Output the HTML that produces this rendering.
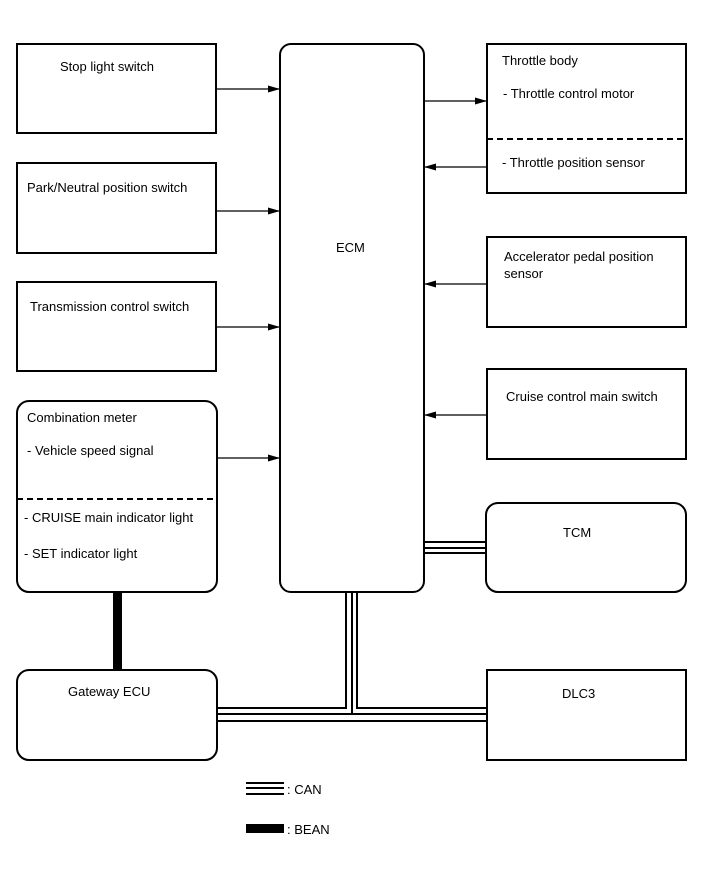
<!DOCTYPE html>
<html><head><style>
body{margin:0;background:#fff}
svg text{font-family:"Liberation Sans",Arial,sans-serif;font-size:13px;fill:#000}
</style></head><body>
<svg width="713" height="882" viewBox="0 0 713 882" xmlns="http://www.w3.org/2000/svg">
<defs><marker id="a" markerWidth="12" markerHeight="8" refX="12" refY="4" orient="auto" markerUnits="userSpaceOnUse"><path d="M0,0.5 L12,4 L0,7.5 z" fill="#000"/></marker></defs>
<g fill="none" stroke="#000" stroke-width="2">
<rect x="17" y="44" width="199" height="89"/>
<rect x="17" y="163" width="199" height="90"/>
<rect x="17" y="282" width="199" height="89"/>
<rect x="17" y="401" width="200" height="191" rx="12"/>
<rect x="280" y="44" width="144" height="548" rx="11"/>
<rect x="487" y="44" width="199" height="149"/>
<rect x="487" y="237" width="199" height="90"/>
<rect x="487" y="369" width="199" height="90"/>
<rect x="486" y="503" width="200" height="89" rx="12"/>
<rect x="17" y="670" width="200" height="90" rx="12"/>
<rect x="487" y="670" width="199" height="90"/>
</g>
<g stroke="#000" stroke-width="2" stroke-dasharray="6,4">
<line x1="17" y1="499" x2="217" y2="499"/>
<line x1="487" y1="139" x2="686" y2="139"/>
</g>
<g stroke="#000" stroke-width="1.2" marker-end="url(#a)">
<line x1="216" y1="89" x2="280" y2="89"/>
<line x1="216" y1="211" x2="280" y2="211"/>
<line x1="216" y1="327" x2="280" y2="327"/>
<line x1="217" y1="458" x2="280" y2="458"/>
<line x1="424" y1="101" x2="487" y2="101"/>
<line x1="487" y1="167" x2="424" y2="167"/>
<line x1="487" y1="284" x2="424" y2="284"/>
<line x1="487" y1="415" x2="424" y2="415"/>
</g>
<g stroke="#000" stroke-width="2" fill="none">
<line x1="424" y1="542" x2="486" y2="542"/>
<line x1="424" y1="548" x2="486" y2="548"/>
<line x1="424" y1="553" x2="486" y2="553"/>
<polyline points="346,592 346,708 217,708"/>
<polyline points="357,592 357,708 487,708"/>
<line x1="352" y1="592" x2="352" y2="714"/>
<line x1="217" y1="714" x2="487" y2="714"/>
<line x1="217" y1="721" x2="487" y2="721"/>
<line x1="246" y1="783" x2="284" y2="783"/>
<line x1="246" y1="788" x2="284" y2="788"/>
<line x1="246" y1="794" x2="284" y2="794"/>
</g>
<rect x="113" y="592" width="9" height="78" fill="#000"/>
<rect x="246" y="824" width="38" height="9" fill="#000"/>
<text x="60" y="71">Stop light switch</text>
<text x="27" y="192">Park/Neutral position switch</text>
<text x="30" y="311">Transmission control switch</text>
<text x="27" y="422">Combination meter</text>
<text x="27" y="455">-  Vehicle speed signal</text>
<text x="24" y="522">-  CRUISE main indicator light</text>
<text x="24" y="558">-  SET indicator light</text>
<text x="336" y="252">ECM</text>
<text x="502" y="65">Throttle body</text>
<text x="503" y="98">-  Throttle control motor</text>
<text x="502" y="167">-  Throttle position sensor</text>
<text x="504" y="261">Accelerator pedal position</text>
<text x="504" y="278">sensor</text>
<text x="506" y="401">Cruise control main switch</text>
<text x="563" y="537">TCM</text>
<text x="68" y="696">Gateway ECU</text>
<text x="562" y="698">DLC3</text>
<text x="287" y="794">: CAN</text>
<text x="287" y="834">: BEAN</text>
</svg>
</body></html>
